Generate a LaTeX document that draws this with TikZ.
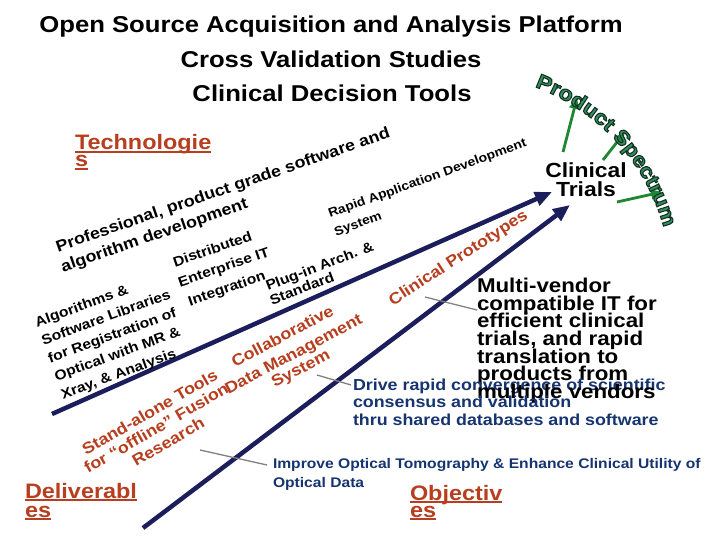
\documentclass[tikz,border=0pt]{standalone}
\usepackage{fontspec}
\setmainfont{Liberation Sans}[FakeStretch=1.12]
\usetikzlibrary{arrows.meta,decorations.text,calc}
\definecolor{rbrown}{RGB}{183,62,30}
\definecolor{navytxt}{RGB}{22,52,112}
\definecolor{navyline}{RGB}{28,30,92}
\definecolor{garrow}{RGB}{30,135,50}
\definecolor{pgreen}{RGB}{58,140,100}
\definecolor{leadergray}{RGB}{128,128,128}
\newcommand\myul[1]{\setbox0\hbox{#1}\rlap{\raisebox{-2.8pt}{\rule{\wd0}{1.8pt}}}\box0}
\newcommand\fs[1]{\fontsize{#1}{#1}\selectfont}
\newcommand\pstyle{\bfseries\fontsize{20.5}{21}\selectfont\color{pgreen}\special{pdf:literal direct 2 Tr 1.1 w 0.06 0.2 0.12 RG}}
\begin{document}
\begin{tikzpicture}[x=1bp,y=-1bp,
  every node/.style={inner sep=0pt,outer sep=0pt},
  ttl/.style={font=\bfseries\fs{23},anchor=base},
  hdr/.style={font=\bfseries\fs{21},text=rbrown,anchor=base west},
  blk/.style={font=\bfseries\fs{#1},anchor=base west},
  redtxt/.style={font=\bfseries\fs{16},text=rbrown,anchor=base},
  navytext/.style={font=\bfseries\fs{#1},text=navytxt,anchor=base west},
  navyarrow/.style={draw=navyline,line width=4.5bp,-{Triangle[length=17bp,width=14bp]}},
  greenarrow/.style={draw=garrow,line width=2.8bp,-{Triangle[length=11bp,width=10bp]}},
  leaderline/.style={draw=leadergray,line width=1.3bp}]
\fill[white] (0,0) rectangle (720,540);
\useasboundingbox (0,0) rectangle (720,540);

% title
\node[ttl] (t1) at (331,33) {Open Source Acquisition and Analysis Platform};
\node[ttl] (t2) at (331,68) {Cross Validation Studies};
\node[ttl] (t3) at (332,102) {Clinical Decision Tools};

% headings
\node[hdr] (tech1) at (75,150) {\myul{Technologie}};
\node[hdr] (tech2) at (75,167) {\myul{s}};
\node[hdr] (del1) at (25,498) {\myul{Deliverabl}};
\node[hdr] (del2) at (25,517) {\myul{es}};
\node[hdr] (obj1) at (410,500) {\myul{Objectiv}};
\node[hdr] (obj2) at (410,517) {\myul{es}};

% navy arrows
\coordinate (u0) at (52,414);
\coordinate (u1) at (552,192);
\coordinate (l0) at (143,528);
\coordinate (l1) at (570,205);
\draw[navyarrow] (u0) -- (u1);
\draw[navyarrow] (l0) -- (l1);

% black rotated technologies
\node[blk=16,rotate=19] (pro1) at (58,252) {Professional, product grade software and};
\node[blk=16,rotate=19] (pro2) at (63,272) {algorithm development};
\node[blk=12.5,rotate=20] (rad1) at (330,218) {Rapid Application Development};
\node[blk=12.5,rotate=20] (rad2) at (336,236) {System};
\node[blk=14,rotate=19] (dis1) at (175,267) {Distributed};
\node[blk=14,rotate=19] (dis2) at (180,287) {Enterprise IT};
\node[blk=14,rotate=19] (dis3) at (190,306) {Integration};
\node[blk=14,rotate=21] (plg1) at (268,291) {Plug-in Arch. \&};
\node[blk=14,rotate=21] (plg2) at (272,305) {Standard};
\node[blk=14,rotate=20] (alg1) at (37,327) {Algorithms \&};
\node[blk=14,rotate=20] (alg2) at (43.5,345) {Software Libraries};
\node[blk=14,rotate=20] (alg3) at (50,363) {for Registration of};
\node[blk=14,rotate=20] (alg4) at (56.5,381) {Optical with MR \&};
\node[blk=14,rotate=20] (alg5) at (63,399) {Xray, \& Analysis};

% red rotated deliverables
\node[redtxt,rotate=28] (col1) at (285,341) {Collaborative};
\node[redtxt,rotate=28] (col2) at (296,358.5) {Data Management};
\node[redtxt,rotate=28] (col3) at (303,373) {System};
\node[redtxt,rotate=30] (sa1) at (152.5,417) {Stand-alone Tools};
\node[redtxt,rotate=30] (sa2) at (159,433) {for “offline” Fusion};
\node[redtxt,rotate=30] (sa3) at (171,446.5) {Research};
\node[redtxt,rotate=33,anchor=base west] (cpr) at (393,306) {Clinical Prototypes};

% clinical trials
\node[font=\bfseries\fs{20.5},anchor=base] (ct1) at (586,178) {Clinical};
\node[font=\bfseries\fs{20.5},anchor=base] (ct2) at (586,197) {Trials};

% objectives text
\node[blk=20] (mv1) at (477,292) {Multi-vendor};
\node[blk=20] (mv2) at (477,310) {compatible IT for};
\node[blk=20] (mv3) at (477,327.5) {efficient clinical};
\node[blk=20] (mv4) at (477,345) {trials, and rapid};
\node[blk=20] (mv5) at (477,363) {translation to};
\node[blk=20] (mv6) at (477,380.5) {products from};
\node[navytext=16] (dr1) at (353,390) {Drive rapid convergence of scientific};
\node[blk=20] (mv7) at (477,398) {multiple vendors};
\node[navytext=16] (dr2) at (353,407.5) {consensus and validation};
\node[navytext=16] (dr3) at (353,425) {thru shared databases and software};
\node[navytext=14] (im1) at (273,468) {Improve Optical Tomography \& Enhance Clinical Utility of};
\node[navytext=14] (im2) at (273,487) {Optical Data};

% leader lines
\coordinate (ld1a) at (425,297); \coordinate (ld1b) at (477,310);
\coordinate (ld2a) at (317,375); \coordinate (ld2b) at (351,385);
\coordinate (ld3a) at (200,450); \coordinate (ld3b) at (267,465);
\draw[leaderline] (ld1a) -- (ld1b);
\draw[leaderline] (ld2a) -- (ld2b);
\draw[leaderline] (ld3a) -- (ld3b);

% green arrows
\coordinate (g1s) at (563,152); \coordinate (g1e) at (577,98);
\coordinate (g2s) at (603,160); \coordinate (g2e) at (625,132);
\coordinate (g3s) at (617,202); \coordinate (g3e) at (662,192);
\draw[greenarrow] (g1s) -- (g1e);
\draw[greenarrow] (g2s) -- (g2e);
\draw[greenarrow] (g3s) -- (g3e);

% product spectrum arc
\coordinate (pc) at (463,282);
\path[decorate,decoration={text along path,text align=center,
  text={|\pstyle|Product Spectrum}}]
  ($(pc)+(-73:208)$) arc[start angle=-73,end angle=-12,radius=208];
\end{tikzpicture}
\end{document}
